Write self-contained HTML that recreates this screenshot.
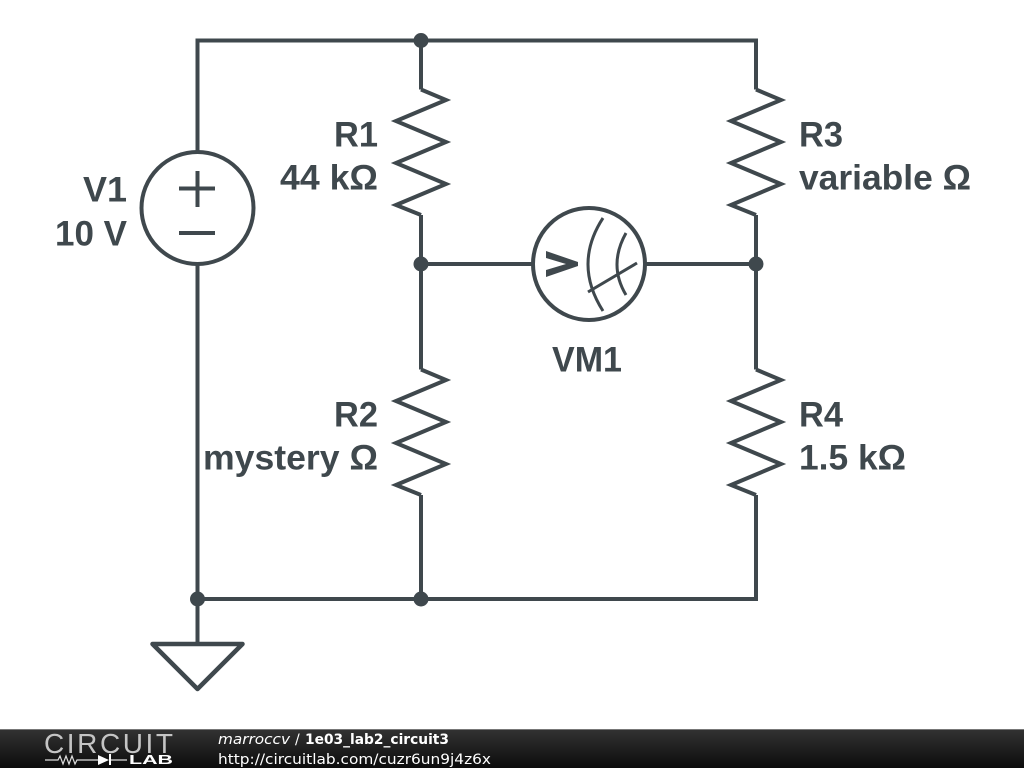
<!DOCTYPE html>
<html><head><meta charset="utf-8"><style>
html,body{margin:0;padding:0;background:#fff;width:1024px;height:768px;overflow:hidden}
svg{display:block}
</style></head><body>
<svg width="1024" height="768" viewBox="0 0 1024 768" xmlns="http://www.w3.org/2000/svg">
<defs><linearGradient id="f" x1="0" y1="0" x2="0" y2="1"><stop offset="0" stop-color="#333"/><stop offset="1" stop-color="#0c0c0c"/></linearGradient></defs>
<rect width="1024" height="768" fill="#fff"/>
<g fill="none" stroke="#3f484d" stroke-width="4" stroke-linejoin="miter">
<path d="M197.500 152V40.500H756V89.500M421 40.500V89.500M421 215V369.500M756 215V369.500M421 495V599M756 495V599H197.500M197.500 264V644M421 264H533M645 264H756"/>
<path d="M421 89.500L446 100L396 121L446 142L396 163L446 184L396 205L421 215"/>
<path d="M421 369.500L446 380L396 401L446 422L396 443L446 464L396 485L421 495"/>
<path d="M756 89.500L781 100L731 121L781 142L731 163L781 184L731 205L756 215"/>
<path d="M756 369.500L781 380L731 401L781 422L731 443L781 464L731 485L756 495"/>
<circle cx="197.500" cy="208" r="56" fill="#fff"/>
<path d="M179 188.500H215M197.500 171V207M179 233H215"/>
<circle cx="589" cy="264" r="56" fill="#fff"/>
<path d="M603 218Q573 264 603 311M626 233Q608 265 626 295" stroke-width="3"/>
<path d="M588 292L637 263" stroke-width="3"/>
<path d="M152.500 644H242.500L197.500 689Z" stroke-linejoin="round" stroke-width="4.500"/>
</g>
<g fill="#3f484d">
<polygon points="546,251 578,262 578,266 546,277 546,270 566,264 546,258"/>
<circle cx="421" cy="40.500" r="7.500"/><circle cx="421" cy="264" r="7.500"/><circle cx="756" cy="264" r="7.500"/><circle cx="197.500" cy="599" r="7.500"/><circle cx="421" cy="599" r="7.500"/>
</g>
<g font-family="'Liberation Sans',sans-serif" font-weight="700" font-size="35.500" fill="#3f484d">
<text x="334" y="146.500" textLength="44" lengthAdjust="spacingAndGlyphs">R1</text>
<text x="280" y="189.500" textLength="98" lengthAdjust="spacingAndGlyphs">44 kΩ</text>
<text x="334" y="426.500" textLength="44" lengthAdjust="spacingAndGlyphs">R2</text>
<text x="203" y="469.500" textLength="175" lengthAdjust="spacingAndGlyphs">mystery Ω</text>
<text x="799" y="146.500" textLength="44" lengthAdjust="spacingAndGlyphs">R3</text>
<text x="799" y="189.500" textLength="172" lengthAdjust="spacingAndGlyphs">variable Ω</text>
<text x="799" y="426.500" textLength="44" lengthAdjust="spacingAndGlyphs">R4</text>
<text x="799" y="469.500" textLength="107" lengthAdjust="spacingAndGlyphs">1.5 kΩ</text>
<text x="83" y="201.500" textLength="44" lengthAdjust="spacingAndGlyphs">V1</text>
<text x="55" y="245.500" textLength="72" lengthAdjust="spacingAndGlyphs">10 V</text>
<text x="552" y="371.500" textLength="70" lengthAdjust="spacingAndGlyphs">VM1</text>
</g>
<rect y="729" width="1024" height="39" fill="url(#f)"/>
<rect y="729" width="1024" height="1" fill="#777"/>
<text x="44" y="753" font-family="'Liberation Sans',sans-serif" font-size="28" fill="#c4c4c4" textLength="129">CIRCUIT</text>
<path d="M45 760H58L60 756L63 764L66 756L69 764L72 756L75 764L77 760H98M110 760H127" stroke="#ddd" stroke-width="1.200" fill="none"/>
<path d="M98 755L109 760L98 765Z" fill="#fff"/><rect x="109" y="754" width="2" height="11" fill="#fff"/>
<text x="129" y="764" font-family="'Liberation Sans',sans-serif" font-weight="700" font-size="13" fill="#fff" textLength="44" lengthAdjust="spacingAndGlyphs">LAB</text>
<g font-family="'DejaVu Sans',sans-serif" font-size="14" fill="#fff">
<text x="218" y="744" textLength="72" lengthAdjust="spacingAndGlyphs" font-style="italic">marroccv</text>
<text x="295" y="744">/</text>
<text x="305" y="744" textLength="144" lengthAdjust="spacingAndGlyphs" font-weight="700">1e03_lab2_circuit3</text>
<text x="218" y="764" textLength="273" lengthAdjust="spacingAndGlyphs">http://circuitlab.com/cuzr6un9j4z6x</text>
</g>
</svg>
</body></html>
